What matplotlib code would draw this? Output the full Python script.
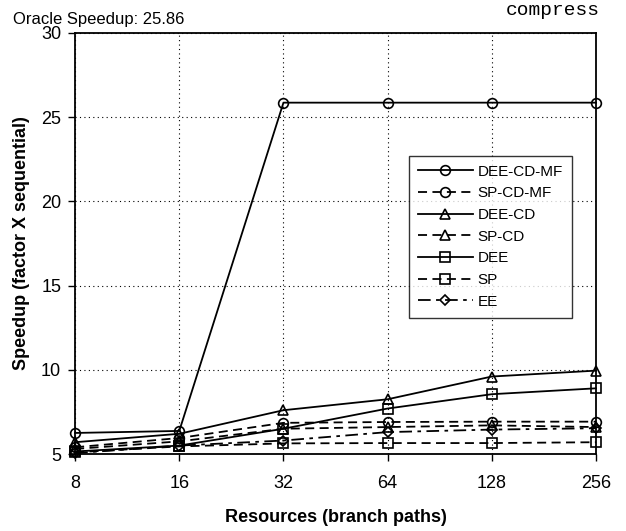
import numpy as np
import matplotlib
matplotlib.use("Agg")
import matplotlib.pyplot as plt
from matplotlib.ticker import FixedLocator, NullLocator

plt.rcParams['font.family'] = ['Liberation Sans', 'DejaVu Sans']

# data
resources = [8, 16, 32, 64, 128, 256]
dee_cd_mf = [6.25, 6.37, 25.86, 25.86, 25.86, 25.86]
sp_cd_mf = [5.4, 5.95, 6.85, 6.9, 6.92, 6.92]
dee_cd = [5.7, 6.2, 7.6, 8.25, 9.6, 9.95]
sp_cd = [5.3, 5.75, 6.5, 6.6, 6.7, 6.6]
dee = [5.15, 5.5, 6.5, 7.7, 8.55, 8.9]
sp = [5.1, 5.45, 5.63, 5.65, 5.65, 5.7]
ee = [5.05, 5.5, 5.8, 6.3, 6.45, 6.53]
oracle = 25.86

fig = plt.figure(figsize=(6.26, 5.31), dpi=100)
ax = fig.add_axes([0.12, 0.145, 0.832, 0.793])

dash = (0, (5, 3))
series = [
    ("DEE-CD-MF", dee_cd_mf, 'o', '-'),
    ("SP-CD-MF", sp_cd_mf, 'o', dash),
    ("DEE-CD", dee_cd, '^', '-'),
    ("SP-CD", sp_cd, '^', dash),
    ("DEE", dee, 's', '-'),
    ("SP", sp, 's', dash),
    ("EE", ee, 'D', (0, (7, 3, 2, 3))),
]
for name, vals, mk, ls in series:
    ms = 5.5 if mk == 'D' else 7
    ax.plot(resources, vals, color='black', linestyle=ls, linewidth=1.3,
            marker=mk, markersize=ms, markerfacecolor='none',
            markeredgecolor='black', markeredgewidth=1.2, label=name,
            clip_on=False)

ax.set_xscale('log', base=2)
ax.set_xlim(8, 256)
ax.set_ylim(5, 30)
ax.xaxis.set_major_locator(FixedLocator(resources))
ax.xaxis.set_minor_locator(NullLocator())
ax.set_xticklabels([str(r) for r in resources])
ax.set_yticks([5, 10, 15, 20, 25, 30])
ax.tick_params(labelsize=13, length=5, width=1, color='black')
ax.tick_params(axis='x', pad=10)
ax.tick_params(axis='y', pad=5)
ax.grid(True, color='black', linestyle=(0, (1, 3)), linewidth=0.8)
for s in ax.spines.values():
    s.set_linewidth(1.3)

ax.set_xlabel("Resources (branch paths)", fontsize=13, fontweight='bold', labelpad=12)
ax.set_ylabel("Speedup (factor X sequential)", fontsize=13, fontweight='bold', labelpad=8)

# oracle note sits just above the "30" tick label
fig.text(13 / 626, 1 - 24 / 531, f"Oracle Speedup: {oracle}",
         fontsize=12, ha='left', va='baseline')
fig.text(600 / 626, 1 - 15 / 531, "compress", family='Liberation Mono', fontsize=14,
         ha='right', va='baseline')

leg = ax.legend(loc='upper left', bbox_to_anchor=(0.626, 0.727), fontsize=11,
                handlelength=3.6, frameon=True, fancybox=False, edgecolor='black',
                borderpad=0.6, labelspacing=0.5, handletextpad=0.3)
leg.get_frame().set_linewidth(1.0)

fig.savefig("out.png", dpi=100)
